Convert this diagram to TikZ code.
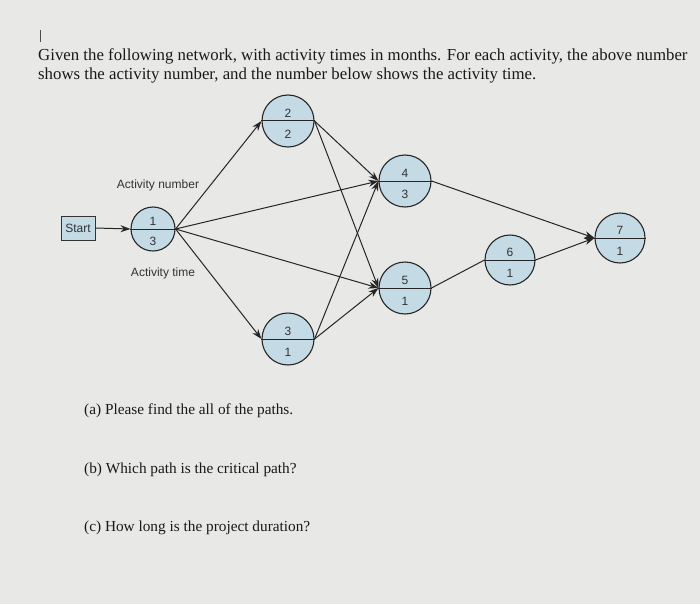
\documentclass[tikz,border=0pt]{standalone}
\usepackage{fontspec}
\setmainfont{Liberation Serif}
\newfontfamily\arial{Liberation Sans}
\usetikzlibrary{arrows.meta}
\definecolor{bg}{RGB}{232,232,230}
\definecolor{nodefill}{RGB}{196,218,228}
\tikzset{
  act/.style={circle,draw=black!85,fill=nodefill,line width=1.1pt,minimum size=#1,inner sep=0pt},
  con/.style={draw=black!85,line width=1pt},
  arr/.style={con,-{Stealth[length=10pt,width=7pt]}},
  lab/.style={font=\arial\fontsize{12}{13}\selectfont,text=black!80},
  txt/.style={font=\fontsize{16.8}{18}\selectfont,anchor=west,inner sep=0pt,text=black!90},
  qtxt/.style={font=\fontsize{15.3}{17}\selectfont,anchor=west,inner sep=0pt,text=black!90}
}
\newcommand{\actnode}[5]{%
  \node[act=#4pt] (#1) at (#2,#3) {};
  \draw[con] (#1.west) -- (#1.east);
  \node[lab] at ([yshift=8pt]#1.center) {#5};
}
\begin{document}
\begin{tikzpicture}[x=1pt,y=-1pt]
\fill[bg] (0,0) rectangle (700,604);
\useasboundingbox (0,0) rectangle (700,604);
\draw[black!70,line width=0.7pt] (40,30) -- (40,42);
\node[txt] (t1) at (38,56) {Given the following network, with activity times in months. For each activity, the above number};
\node[txt] (t2) at (38,75) {shows the activity number, and the number below shows the activity time.};
% nodes
\node[draw=black!80,fill=nodefill,line width=1pt,minimum width=34pt,minimum height=24pt,lab,inner sep=0pt] (s) at (78,228) {Start};
\actnode{n1}{153}{229}{44}{1}
\actnode{n2}{288}{121}{52}{2}
\actnode{n3}{288}{339}{52}{3}
\actnode{n4}{405}{181}{52}{4}
\actnode{n5}{405}{288}{52}{5}
\actnode{n6}{510}{260}{50}{6}
\actnode{n7}{620}{238}{50}{7}
\node[lab] at (153,241) {3};
\node[lab] at (288,134) {2};
\node[lab] at (288,352) {1};
\node[lab] at (405,194) {3};
\node[lab] at (405,301) {1};
\node[lab] at (510,273) {1};
\node[lab] at (620,251) {1};
% labels
\node[lab] (an) at (158,185) {Activity number};
\node[lab] (at) at (163,273) {Activity time};
% edges
\draw[arr] (s.east) -- (n1.west);
\draw[arr] (n1.east) -- (n2.west);
\draw[arr] (n1.east) -- (n3.west);
\draw[arr] (n1.east) -- (n4.west);
\draw[arr] (n1.east) -- (n5.west);
\draw[arr] (n2.east) -- (n4.west);
\draw[arr] (n2.east) -- (n5.west);
\draw[arr] (n3.east) -- (n4.west);
\draw[arr] (n3.east) -- (n5.west);
\draw[arr] (n4.east) -- (n7.west);
\draw[con] (n5.east) -- (n6.west);
\draw[arr] (n6.east) -- (n7.west);
% questions
\node[qtxt] (q1) at (84,411) {(a) Please find the all of the paths.};
\node[qtxt] (q2) at (84,470) {(b) Which path is the critical path?};
\node[qtxt] (q3) at (84,528) {(c) How long is the project duration?};
\end{tikzpicture}
\end{document}
